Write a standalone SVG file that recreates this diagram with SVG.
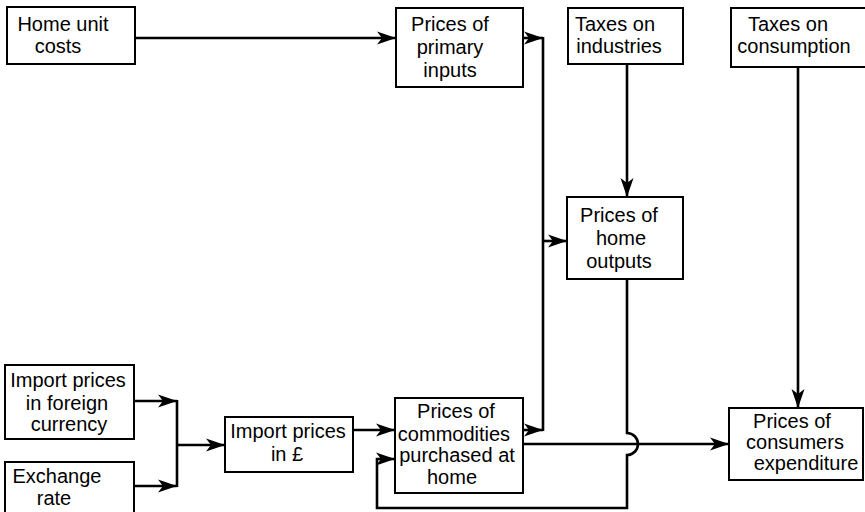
<svg xmlns="http://www.w3.org/2000/svg" width="865" height="512" viewBox="0 0 865 512">
  <style>
    .box rect { fill: #fff; stroke: #000; stroke-width: 2; }
    .box text { font-family: "Liberation Sans", Arial, sans-serif; font-size: 20px; fill: #000; text-anchor: middle; }
    .wire { fill: none; stroke: #000; stroke-width: 2.6; }
  </style>
  <defs>
    <marker id="arrow" markerUnits="userSpaceOnUse" markerWidth="22" markerHeight="16" refX="19" refY="8" orient="auto">
      <path d="M0,1.5 L19,8 L0,14.5 L5,8 z" fill="#000"/>
    </marker>
  </defs>

  <!-- connectors -->
  <g id="connectors">
    <path class="wire" d="M135,38 H396" marker-end="url(#arrow)"/>
    <path class="wire" d="M523,38 H543" marker-end="url(#arrow)"/>
    <path class="wire" d="M543,37 V431"/>
    <path class="wire" d="M523,430 H543" marker-end="url(#arrow)"/>
    <path class="wire" d="M543,241 H567" marker-end="url(#arrow)"/>
    <path class="wire" d="M627,64 V197" marker-end="url(#arrow)"/>
    <path class="wire" d="M627,279 V433 A11,11 0 0 1 627,455 V508 H377 V459 H395" marker-end="url(#arrow)"/>
    <path class="wire" d="M523,444 H729" marker-end="url(#arrow)"/>
    <path class="wire" d="M798,67 V408" marker-end="url(#arrow)"/>
    <path class="wire" d="M134,401 H177" marker-end="url(#arrow)"/>
    <path class="wire" d="M134,486 H177" marker-end="url(#arrow)"/>
    <path class="wire" d="M177,400 V487"/>
    <path class="wire" d="M177,445 H225" marker-end="url(#arrow)"/>
    <path class="wire" d="M353,430 H395" marker-end="url(#arrow)"/>
  </g>

  <g id="home-unit-costs" class="box">
    <rect x="7" y="7" width="128" height="57"/>
    <text x="63" y="31">Home unit</text>
    <text x="58" y="53">costs</text>
  </g>

  <g id="prices-primary-inputs" class="box">
    <rect x="396" y="8" width="127" height="79"/>
    <text x="450" y="31">Prices of</text>
    <text x="450" y="54">primary</text>
    <text x="450" y="77">inputs</text>
  </g>

  <g id="taxes-industries" class="box">
    <rect x="568" y="8" width="115" height="56"/>
    <text x="615" y="31">Taxes on</text>
    <text x="619" y="53">industries</text>
  </g>

  <g id="taxes-consumption" class="box">
    <rect x="731" y="8" width="136" height="59"/>
    <text x="788" y="31">Taxes on</text>
    <text x="794" y="53">consumption</text>
  </g>

  <g id="prices-home-outputs" class="box">
    <rect x="567" y="197" width="116" height="82"/>
    <text x="619" y="222">Prices of</text>
    <text x="621" y="245">home</text>
    <text x="619" y="268">outputs</text>
  </g>

  <g id="import-prices-foreign" class="box">
    <rect x="5" y="365" width="129" height="74"/>
    <text x="68" y="387">Import prices</text>
    <text x="67" y="410">in foreign</text>
    <text x="69" y="431">currency</text>
  </g>

  <g id="exchange-rate" class="box">
    <rect x="5" y="462" width="129" height="52"/>
    <text x="57" y="483">Exchange</text>
    <text x="54" y="505">rate</text>
  </g>

  <g id="import-prices-sterling" class="box">
    <rect x="225" y="417" width="128" height="55"/>
    <text x="288" y="438">Import prices</text>
    <text x="287" y="461">in £</text>
  </g>

  <g id="prices-commodities" class="box">
    <rect x="395" y="398" width="128" height="95"/>
    <text x="456" y="418">Prices of</text>
    <text x="454" y="441">commodities</text>
    <text x="457" y="462">purchased at</text>
    <text x="452" y="484">home</text>
  </g>

  <g id="prices-consumers-expenditure" class="box">
    <rect x="729" y="408" width="134" height="72"/>
    <text x="792" y="428">Prices of</text>
    <text x="795" y="449">consumers</text>
    <text x="806" y="470">expenditure</text>
  </g>
</svg>
